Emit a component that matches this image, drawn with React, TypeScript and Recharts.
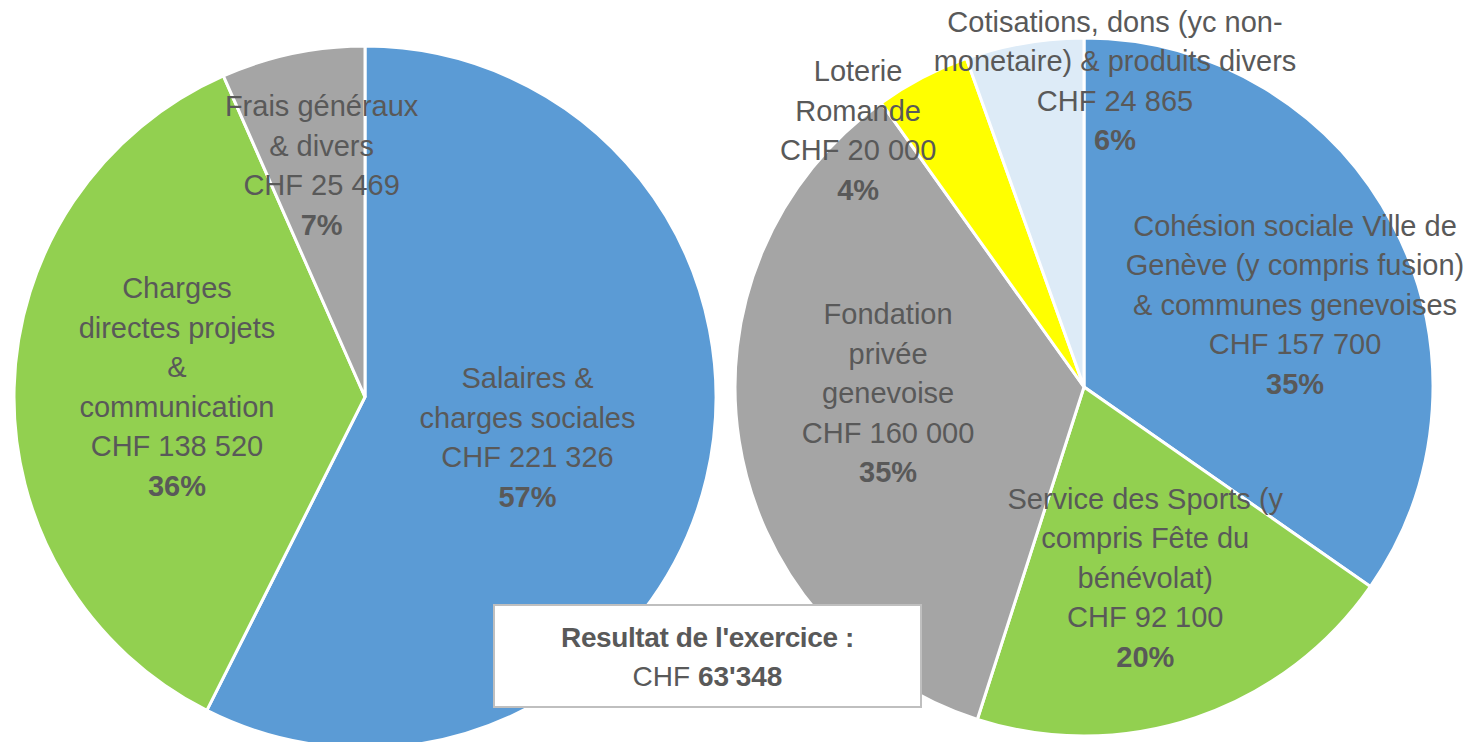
import React from 'react';
import { PieChart, Pie, Cell } from 'recharts';

// Charges (left pie)
const expenseNames = ['Salaires & charges sociales', 'Charges directes projets & communication', 'Frais généraux & divers'];
const expenseLines = [
  ['Salaires &', 'charges sociales'],
  ['Charges', 'directes projets', '&', 'communication'],
  ['Frais généraux', '& divers'],
];
const expenseValues = [221326, 138520, 25469];
const expensePct = ['57%', '36%', '7%'];
const expenseColors = ['#5B9BD5', '#92D050', '#A5A5A5'];

// Produits (right pie)
const incomeNames = [
  'Cohésion sociale Ville de Genève (y compris fusion) & communes genevoises',
  'Service des Sports (y compris Fête du bénévolat)',
  'Fondation privée genevoise',
  'Loterie Romande',
  'Cotisations, dons (yc non-monetaire) & produits divers',
];
const incomeLines = [
  ['Cohésion sociale Ville de', 'Genève (y compris fusion)', '& communes genevoises'],
  ['Service des Sports (y', 'compris Fête du', 'bénévolat)'],
  ['Fondation', 'privée', 'genevoise'],
  ['Loterie', 'Romande'],
  ['Cotisations, dons (yc non-', 'monetaire) & produits divers'],
];
const incomeValues = [157700, 92100, 160000, 20000, 24865];
const incomePct = ['35%', '20%', '35%', '4%', '6%'];
const incomeColors = ['#5B9BD5', '#92D050', '#A5A5A5', '#FFFF00', '#DDEBF7'];

const resultLabel = "Resultat de l'exercice :";
const resultValue = "63'348";

// label placement: radius as fraction of outer radius, angular nudge (deg, clockwise)
const expenseLabelRadius = [0.48, 0.536, 0.66];
const expenseLabelShift = [1.9, 0.4, 1.1];
const incomeLabelRadius = [0.645, 0.585, 0.562, 0.971, 0.87];
const incomeLabelShift = [7.2, 1.2, 5.9, -14.2, 15.7];

const FONT = '"Liberation Sans", Arial, sans-serif';
const TEXT = '#595959';
const LINE_H = 39.5;
const RAD = Math.PI / 180;

const fmtChf = (v: number) => 'CHF ' + String(v).replace(/\B(?=(\d{3})+(?!\d))/g, ' ');

const expenseData = expenseNames.map((name, i) => ({ name, value: expenseValues[i] }));
const incomeData = incomeNames.map((name, i) => ({ name, value: incomeValues[i] }));

const makeLabel = (lines: string[][], pct: string[], radius: number[], shift: number[]) =>
  (props: any) => {
    const { cx, cy, midAngle, outerRadius, index, value } = props;
    const angle = midAngle - shift[index];
    const r = outerRadius * radius[index];
    const x = cx + Math.cos(-angle * RAD) * r;
    const y = cy + Math.sin(-angle * RAD) * r;
    const rows = [...lines[index], fmtChf(value), pct[index]];
    const top = y - ((rows.length - 1) * LINE_H) / 2 + 6;
    return (
      <text
        key={`lbl-${index}`}
        x={x}
        y={top}
        textAnchor="middle"
        fill={TEXT}
        fontSize={29}
        fontFamily={FONT}
      >
        {rows.map((row, k) => (
          <tspan
            key={k}
            x={x}
            dy={k === 0 ? 0 : LINE_H}
            fontWeight={k === rows.length - 1 ? 'bold' : 'normal'}
          >
            {row}
          </tspan>
        ))}
      </text>
    );
  };

export default function App() {
  return (
    <div style={{ position: 'absolute', left: 0, top: 0, width: 1480, height: 742, overflow: 'hidden', background: '#fff' }}>
      <PieChart width={1480} height={742}>
        <Pie
          data={expenseData}
          dataKey="value"
          cx={360}
          cy={392}
          outerRadius={351}
          startAngle={90}
          endAngle={-270}
          stroke="#fff"
          strokeWidth={3}
          labelLine={false}
          label={makeLabel(expenseLines, expensePct, expenseLabelRadius, expenseLabelShift)}
          isAnimationActive={false}
        >
          {expenseData.map((d, i) => (
            <Cell key={d.name} fill={expenseColors[i]} />
          ))}
        </Pie>
        <Pie
          data={incomeData}
          dataKey="value"
          cx={1079}
          cy={382}
          outerRadius={349}
          startAngle={90}
          endAngle={-270}
          stroke="#fff"
          strokeWidth={3}
          labelLine={false}
          label={makeLabel(incomeLines, incomePct, incomeLabelRadius, incomeLabelShift)}
          isAnimationActive={false}
        >
          {incomeData.map((d, i) => (
            <Cell key={d.name} fill={incomeColors[i]} />
          ))}
        </Pie>
      </PieChart>
      <div
        style={{
          position: 'absolute',
          left: 493,
          top: 604,
          width: 429,
          height: 104,
          boxSizing: 'border-box',
          background: '#fff',
          border: '2px solid #BFBFBF',
          fontFamily: FONT,
          color: TEXT,
          fontSize: 28,
          lineHeight: '39px',
          textAlign: 'center',
          paddingTop: 12,
          paddingLeft: 0,
        }}
      >
        <div style={{ fontWeight: 'bold', letterSpacing: -0.4 }}>{resultLabel}</div>
        <div>
          CHF <span style={{ fontWeight: 'bold' }}>{resultValue}</span>
        </div>
      </div>
    </div>
  );
}
